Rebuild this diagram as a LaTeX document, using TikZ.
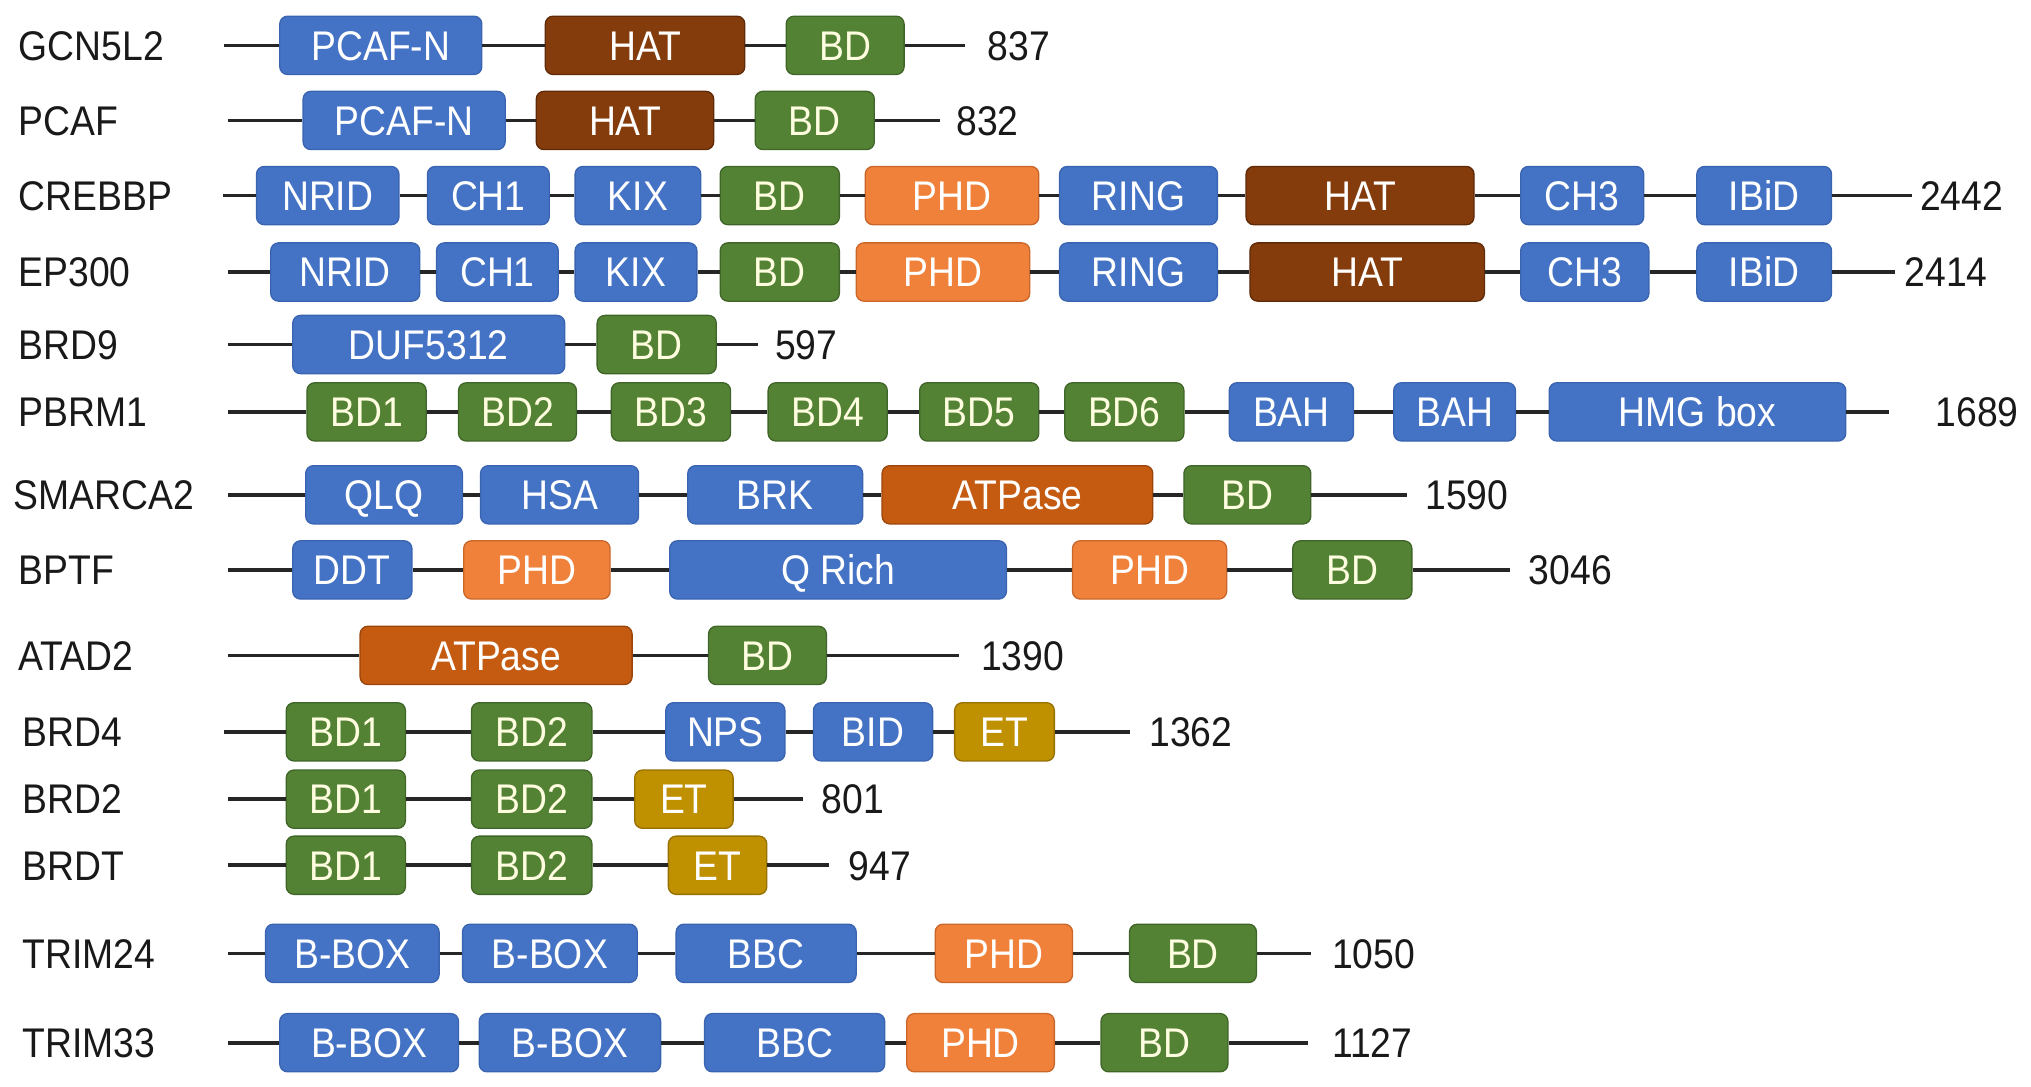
\documentclass[tikz,border=0pt]{standalone}
\usepackage{fontspec}
\setmainfont{Liberation Sans}[FakeStretch=0.9]
\definecolor{cblue}{HTML}{4472C4}
\definecolor{cblueD}{HTML}{3A64B0}
\definecolor{cgreen}{HTML}{548235}
\definecolor{cgreenD}{HTML}{3F6528}
\definecolor{cbrown}{HTML}{843C0C}
\definecolor{cbrownD}{HTML}{5E2A08}
\definecolor{corange}{HTML}{F0813A}
\definecolor{corangeD}{HTML}{C9662A}
\definecolor{catp}{HTML}{C55A11}
\definecolor{catpD}{HTML}{9A450C}
\definecolor{cet}{HTML}{BF9000}
\definecolor{cetD}{HTML}{967000}
\tikzset{
  box/.style={draw, line width=0.5pt, rounded corners=3pt, minimum height=22.5pt, inner sep=0pt,
    text height=11.4pt, text depth=0pt,
    text=white, font=\fontsize{16}{18}\selectfont},
  dblue/.style={fill=cblue, draw=cblueD},
  dgreen/.style={fill=cgreen, draw=cgreenD, text=white!88!yellow},
  dbrown/.style={fill=cbrown, draw=cbrownD},
  dorange/.style={fill=corange, draw=corangeD},
  datp/.style={fill=catp, draw=catpD},
  det/.style={fill=cet, draw=cetD},
  lab/.style={anchor=west, inner sep=0pt, text height=11.4pt, text depth=0pt,
    font=\fontsize{16}{18}\selectfont, text=black!90},
  num/.style={lab},
  bb/.style={line width=1.4pt, black!85}
}
% #1 id, #2 y, #3 label x, #4 label, #5 line start, #6 line end, #7 number x, #8 number, #9 boxes
\newcommand\protrow[9]{%
  \coordinate (#1s) at (#5,#2);
  \coordinate (#1e) at (#6,#2);
  \node[lab] (#1l) at (#3,#2) {#4};
  \node[num] (#1n) at (#7,#2) {#8};
  \xdef\prevnode{#1s}%
  \foreach \a/\b/\t/\s [count=\i] in {#9} {
    \node[box,\s, minimum width={(\b-\a)*0.5pt}] (#1b\i) at ({(\a+\b)/2},#2) {\t};
    \draw[bb] (\prevnode) -- (#1b\i);
    \xdef\prevnode{#1b\i}%
  }
  \draw[bb] (\prevnode) -- (#1e);
}
\begin{document}
\begin{tikzpicture}[x=0.5pt,y=-0.5pt]
\useasboundingbox (0,0) rectangle (1568,839);
\protrow{r1}{35}{14}{GCN5L2}{173}{745}{762}{837}{216/372/PCAF-N/dblue, 421/575/HAT/dbrown, 607/698/BD/dgreen}
\protrow{r2}{93}{14}{PCAF}{176}{726}{738}{832}{234/390/PCAF-N/dblue, 414/551/HAT/dbrown, 583/675/BD/dgreen}
\protrow{r3}{151}{14}{CREBBP}{172}{1476}{1482}{2442}{198/308/NRID/dblue, 330/424/CH1/dblue, 444/541/KIX/dblue, 556/648/BD/dgreen, 668/802/PHD/dorange, 818/940/RING/dblue, 962/1138/HAT/dbrown, 1174/1269/CH3/dblue, 1310/1414/IBiD/dblue}
\protrow{r4}{210}{14}{EP300}{176}{1463}{1470}{2414}{209/324/NRID/dblue, 337/431/CH1/dblue, 444/538/KIX/dblue, 556/648/BD/dgreen, 661/795/PHD/dorange, 818/940/RING/dblue, 965/1146/HAT/dbrown, 1174/1273/CH3/dblue, 1310/1414/IBiD/dblue}
\protrow{r5}{266}{14}{BRD9}{176}{585}{598}{597}{226/436/DUF5312/dblue, 461/553/BD/dgreen}
\protrow{r6}{318}{14}{PBRM1}{176}{1458}{1494}{1689}{237/329/BD1/dgreen, 354/445/BD2/dgreen, 472/564/BD3/dgreen, 593/685/BD4/dgreen, 710/802/BD5/dgreen, 822/914/BD6/dgreen, 949/1045/BAH/dblue, 1076/1170/BAH/dblue, 1196/1425/HMG box/dblue}
\protrow{r7}{382}{10}{SMARCA2}{176}{1086}{1100}{1590}{236/357/QLQ/dblue, 371/493/HSA/dblue, 531/666/BRK/dblue, 681/890/ATPase/datp, 914/1012/BD/dgreen}
\protrow{r8}{440}{14}{BPTF}{176}{1166}{1180}{3046}{226/318/DDT/dblue, 358/471/PHD/dorange, 517/777/Q Rich/dblue, 828/947/PHD/dorange, 998/1090/BD/dgreen}
\protrow{r9}{506}{14}{ATAD2}{176}{740}{757}{1390}{278/488/ATPase/datp, 547/638/BD/dgreen}
\protrow{r10}{565}{17}{BRD4}{173}{872}{887}{1362}{221/313/BD1/dgreen, 364/457/BD2/dgreen, 514/606/NPS/dblue, 628/720/BID/dblue, 737/814/ET/det}
\protrow{r11}{617}{17}{BRD2}{176}{620}{634}{801}{221/313/BD1/dgreen, 364/457/BD2/dgreen, 490/566/ET/det}
\protrow{r12}{668}{17}{BRDT}{176}{640}{655}{947}{221/313/BD1/dgreen, 364/457/BD2/dgreen, 516/592/ET/det}
\protrow{r13}{736}{17}{TRIM24}{176}{1012}{1028}{1050}{205/339/B-BOX/dblue, 357/492/B-BOX/dblue, 522/661/BBC/dblue, 722/828/PHD/dorange, 872/970/BD/dgreen}
\protrow{r14}{805}{17}{TRIM33}{176}{1010}{1028}{1127}{216/354/B-BOX/dblue, 370/510/B-BOX/dblue, 544/683/BBC/dblue, 700/814/PHD/dorange, 850/948/BD/dgreen}
\end{tikzpicture}
\end{document}
